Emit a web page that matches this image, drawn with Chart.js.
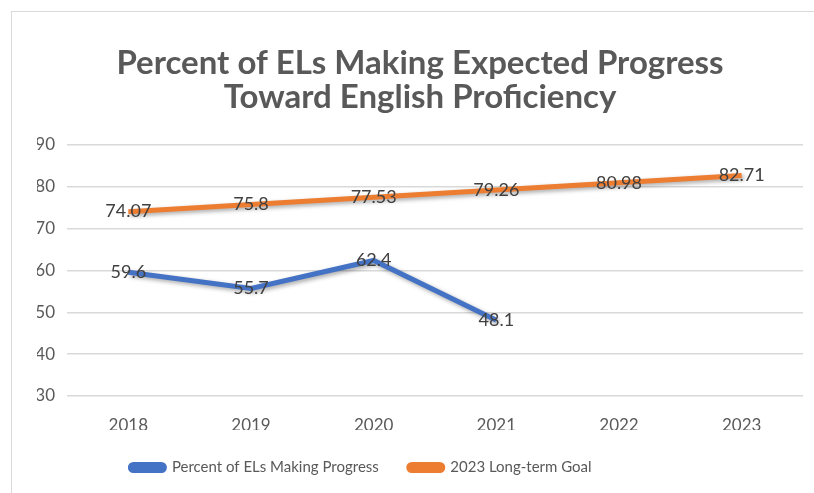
<!DOCTYPE html>
<html>
<head>
<meta charset="utf-8">
<script src="https://cdn.jsdelivr.net/npm/chart.js@4.4.0/dist/chart.umd.min.js"></script>
<style>
  html, body { margin: 0; padding: 0; background: #fff; }
  #wrap { position: relative; width: 814px; height: 493px; overflow: hidden; }
  #frame { position: absolute; left: 11px; top: 11px; width: 900px; height: 600px; border: 1px solid #d9d9d9; }
  canvas { position: absolute; left: 0; top: 0; }
</style>
</head>
<body>
<div id="wrap">
  <div id="frame"></div>
  <canvas id="myChart"></canvas>
</div>
<script>
// chart values
const years = ['2018', '2019', '2020', '2021', '2022', '2023'];
const progress = [59.6, 55.7, 62.4, 48.1, null, null];
const goal = [74.07, 75.8, 77.53, 79.26, 80.98, 82.71];
const yTicks = [30, 40, 50, 60, 70, 80, 90];

const FONT = 'Lato, "Open Sans", sans-serif';

// soft shadow under the lines, like the office chart
const lineShadow = {
  id: 'lineShadow',
  beforeDatasetsDraw(chart) {
    const ctx = chart.ctx;
    ctx.save();
    ctx.shadowColor = 'rgba(0,0,0,0.35)';
    ctx.shadowBlur = 4;
    ctx.shadowOffsetX = 2;
    ctx.shadowOffsetY = 2;
  },
  afterDatasetsDraw(chart) {
    chart.ctx.restore();
  }
};

// value labels centred on each point
const valueLabels = {
  id: 'valueLabels',
  afterDraw(chart) {
    const ctx = chart.ctx;
    ctx.save();
    ctx.font = '18px ' + FONT;
    ctx.fillStyle = '#404040';
    ctx.textAlign = 'center';
    ctx.textBaseline = 'middle';
    chart.data.datasets.forEach((ds, i) => {
      const meta = chart.getDatasetMeta(i);
      meta.data.forEach((pt, j) => {
        const v = ds.data[j];
        if (v === null || v === undefined) return;
        ctx.fillText(String(v), pt.x, pt.y);
      });
    });
    ctx.restore();
  }
};

// the legend sits a bit left of centre in the original
const legendShift = {
  id: 'legendShift',
  afterLayout(chart) {
    chart.legend.left -= 59;
    chart.legend.right -= 59;
  }
};

const canvas = document.getElementById('myChart');
canvas.width = 814;
canvas.height = 493;
canvas.style.width = '814px';
canvas.style.height = '493px';

new Chart(canvas, {
  type: 'line',
  data: {
    labels: years,
    datasets: [{
      label: 'Percent of ELs Making Progress',
      data: progress,
      borderColor: '#4472C4',
      backgroundColor: '#4472C4',
      borderWidth: 5,
      pointRadius: 0,
      tension: 0,
      spanGaps: false
    }, {
      label: '2023 Long-term Goal',
      data: goal,
      borderColor: '#ED7D31',
      backgroundColor: '#ED7D31',
      borderWidth: 5,
      pointRadius: 0,
      tension: 0
    }]
  },
  options: {
    responsive: false,
    animation: false,
    devicePixelRatio: 1,
    layout: {
      padding: { left: 37, right: 11, top: 0, bottom: 8 }
    },
    plugins: {
      title: {
        display: true,
        text: ['Percent of ELs Making Expected Progress', 'Toward English Proficiency'],
        color: '#595959',
        font: { size: 33, weight: 'bold', family: FONT, lineHeight: '34px' },
        padding: { top: 46, bottom: 31 }
      },
      legend: {
        position: 'bottom',
        labels: {
          color: '#595959',
          font: { size: 15, family: FONT },
          boxWidth: 34,
          boxHeight: 6,
          useBorderRadius: true,
          borderRadius: 3,
          padding: 30
        }
      },
      tooltip: { enabled: false }
    },
    scales: {
      x: {
        offset: true,
        grid: { display: false },
        border: { display: false },
        afterFit(axis) {
          axis.height = 34;
        },
        ticks: {
          color: '#595959',
          font: { size: 17, family: FONT },
          padding: 11
        }
      },
      y: {
        min: 30,
        max: 90,
        afterBuildTicks(axis) {
          axis.ticks = yTicks.map(v => ({ value: v }));
        },
        afterFit(axis) {
          axis.width = 30;
        },
        grid: { color: '#d9d9d9', lineWidth: 1.5, drawTicks: false },
        border: { display: false },
        ticks: {
          color: '#595959',
          font: { size: 17, family: FONT },
          padding: 12
        }
      }
    }
  },
  plugins: [lineShadow, valueLabels, legendShift]
});
</script>
</body>
</html>
